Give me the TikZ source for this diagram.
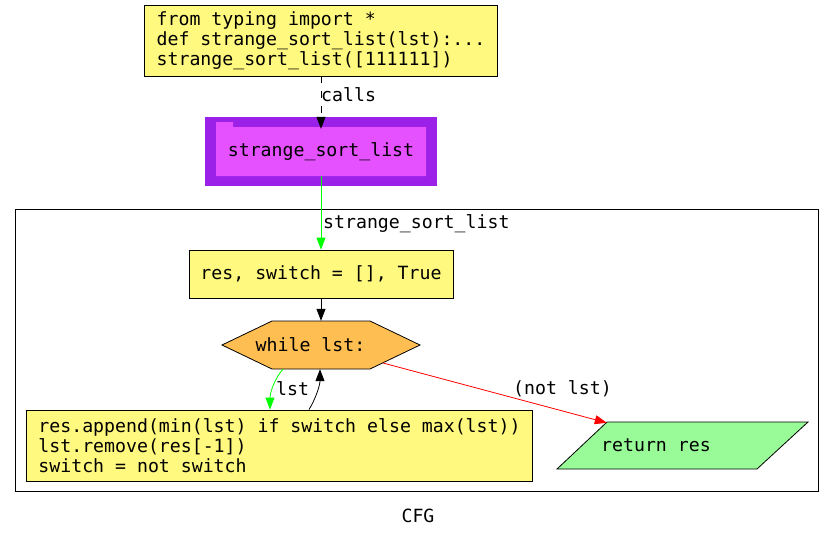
\documentclass[tikz,border=0pt]{standalone}
\usepackage{fontspec}
\setmonofont{DejaVu Sans Mono}
\usetikzlibrary{arrows.meta}
\definecolor{codeyellow}{HTML}{FFF97F}
\definecolor{folderout}{HTML}{9B20E8}
\definecolor{folderin}{HTML}{E550FF}
\definecolor{loopor}{HTML}{FFBE52}
\definecolor{retgreen}{HTML}{98FB98}
\definecolor{edgegreen}{HTML}{00FF00}
\newcommand\mycodefont{\ttfamily\fontsize{18.2}{20}\selectfont\spaceskip 0.602em\relax}
\begin{document}
\begin{tikzpicture}[x=1pt,y=-1pt,
  every node/.style={font=\mycodefont},
  codebox/.style={draw=black, fill=codeyellow, line width=0.8pt, inner sep=0pt, align=left},
  tip/.style={-{Triangle[length=12pt,width=9pt]}, line width=0.8pt},
  lbl/.style={inner sep=0pt, anchor=west}
]
\useasboundingbox (0,0) rectangle (835,539);
% top code box
\node[codebox, minimum height=71pt, inner xsep=12pt] (top) at (321,40.5)
  {from typing import *\\def strange\_sort\_list(lst):...\\strange\_sort\_list([111111])};
% folder node
\fill[folderout] (205,117) rectangle (437,186);
\fill[folderin] (216,122) -- (233,122) -- (233,127) -- (426,127) -- (426,176) -- (216,176) -- cycle;
\node[inner sep=0pt, minimum width=210pt, minimum height=49pt] (fn) at (321,151.5) {strange\_sort\_list};
% cluster
\draw[black, line width=0.8pt] (15,209) rectangle (818,491);
\node[lbl] (cl) at (323,223.5) {strange\_sort\_list};
% res box
\node[codebox, minimum width=264pt, minimum height=48pt] (res) at (321,274) {res, switch = [], True};
% hexagon
\draw[fill=loopor, line width=0.8pt] (222,345) -- (272,321) -- (370,321) -- (420,345) -- (370,369) -- (272,369) -- cycle;
\node[inner sep=0pt, minimum width=198pt, minimum height=48pt] (hex) at (321,345) {\hspace*{-21pt}while lst:};
% body box
\node[codebox, minimum height=71pt, inner xsep=12pt] (body) at (279.5,445.5)
  {res.append(min(lst) if switch else max(lst))\\lst.remove(res[-1])\\switch = not switch};
% return parallelogram
\draw[fill=retgreen, line width=0.8pt] (557,469) -- (607,422) -- (808,422) -- (757,469) -- cycle;
\node[inner sep=0pt, minimum width=200pt, minimum height=47pt] (ret) at (682.5,445.5) {};
\node[lbl] (rettxt) at (601,445) {return res};
% edges
\draw[tip, dash pattern=on 7pt off 8pt] (top.south) -- ([yshift=-2pt]fn.north);
\node[lbl] (calls) at (321,95) {calls};
\draw[tip, draw=edgegreen] (fn.south) -- (res.north);
\draw[tip] (res.south) -- (hex.north);
\draw[tip, draw=edgegreen] ([xshift=-38pt]hex.south) .. controls (275,378) and (270,392) .. ([xshift=-9.5pt]body.north);
\node[lbl] (lstl) at (276,389) {lst};
\draw[tip] ([xshift=29.5pt]body.north) .. controls (316,398) and (320,385) .. ([xshift=-1pt]hex.south);
\draw[tip, draw=red] (383,363) -- ([xshift=24.5pt,yshift=-1pt]ret.north west);
\node[lbl] (notl) at (513,389) {(not lst)};
% caption
\node[inner sep=0pt] (cfg) at (418,516) {CFG};
\end{tikzpicture}
\end{document}
